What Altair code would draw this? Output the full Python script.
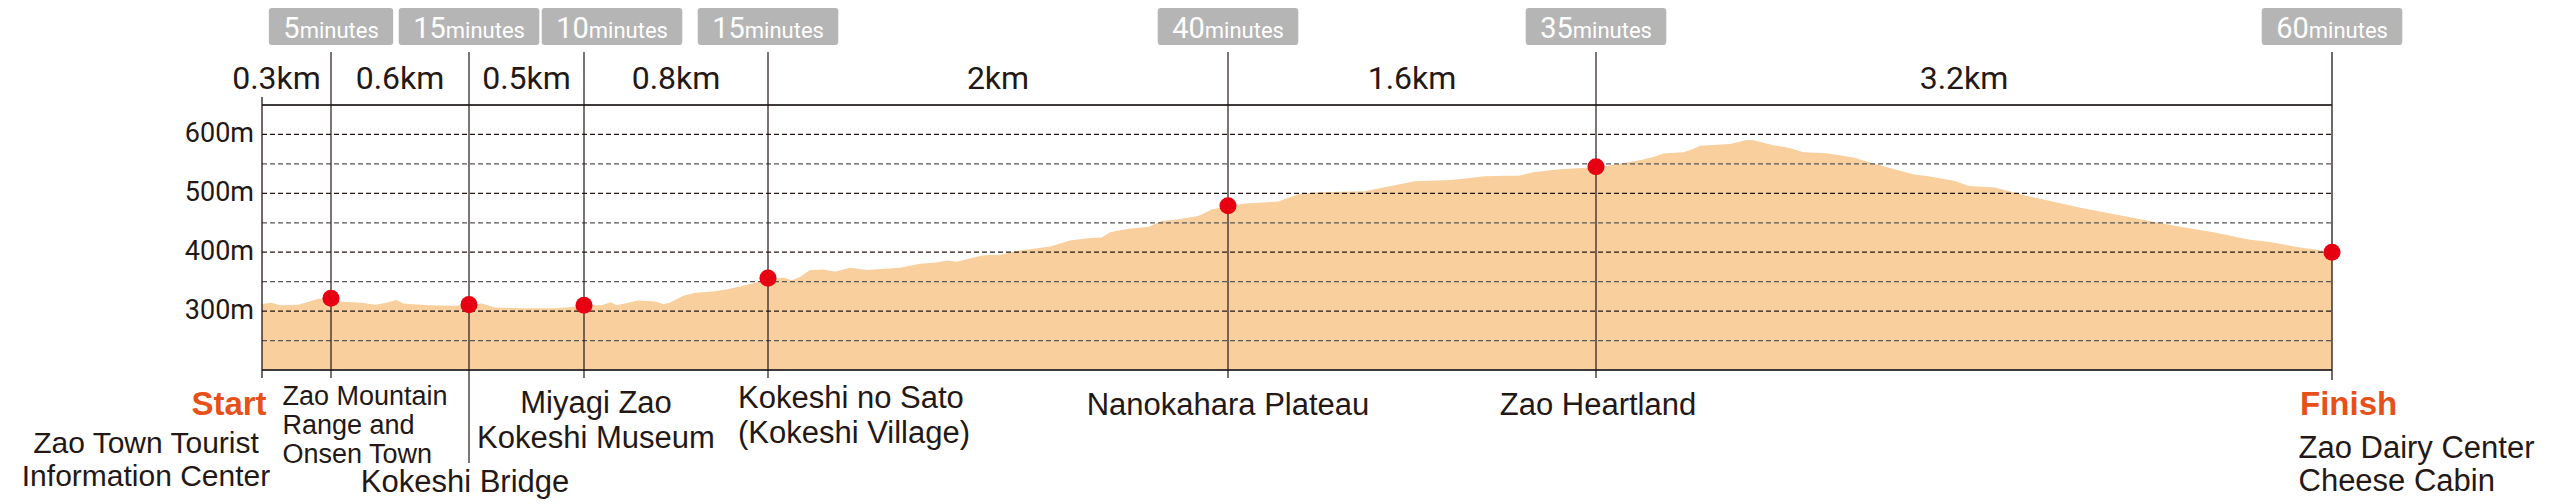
import altair as alt
import pandas as pd

# ---------------- data ----------------
segment_km = [0.3, 0.6, 0.5, 0.8, 2.0, 1.6, 3.2]
segment_labels = ["0.3km", "0.6km", "0.5km", "0.8km", "2km", "1.6km", "3.2km"]
segment_minutes = [5, 15, 10, 15, 40, 35, 60]
minutes_unit = "minutes"

station_names = [
    "Zao Town Tourist\nInformation Center",
    "Zao Mountain\nRange and\nOnsen Town",
    "Kokeshi Bridge",
    "Miyagi Zao\nKokeshi Museum",
    "Kokeshi no Sato\n(Kokeshi Village)",
    "Nanokahara Plateau",
    "Zao Heartland",
    "Zao Dairy Center\nCheese Cabin",
]
station_elev = [None, 322, 311, 310, 356, 479, 545, 400]
endpoint_labels = ["Start", "Finish"]

profile_km = [
    0.000, 0.040, 0.078, 0.158, 0.245, 0.303, 0.346, 0.433, 0.491, 0.542,
    0.585, 0.614, 0.723, 0.839, 0.901, 0.955, 1.013, 1.129, 1.274, 1.346,
    1.401, 1.477, 1.517, 1.542, 1.636, 1.709, 1.745, 1.774, 1.796, 1.832,
    1.883, 1.962, 2.035, 2.122, 2.201, 2.267, 2.303, 2.339, 2.383, 2.441,
    2.491, 2.557, 2.629, 2.774, 2.861, 2.933, 2.977, 3.020, 3.136, 3.209,
    3.281, 3.426, 3.513, 3.600, 3.651, 3.687, 3.767, 3.853, 3.912, 3.984,
    4.071, 4.129, 4.201, 4.274, 4.419, 4.506, 4.593, 4.796, 4.854, 5.013,
    5.172, 5.317, 5.404, 5.463, 5.527, 5.643, 5.801, 5.890, 5.991, 6.049,
    6.093, 6.180, 6.223, 6.252, 6.383, 6.455, 6.484, 6.571, 6.643, 6.701,
    6.803, 6.919, 6.977, 7.093, 7.183, 7.245, 7.361, 7.419, 7.535, 7.622,
    7.680, 7.912, 8.201, 8.346, 8.491, 8.636, 8.723, 8.853, 9.000,
]
profile_elev = [
    312, 314, 310, 311, 321, 321, 316, 314, 311, 314,
    319, 313, 310, 309, 311, 313, 306, 305, 305, 307,
    310, 310, 315, 310, 318, 316.5, 312, 314, 319, 326,
    331, 333.5, 338, 346, 353, 357, 352.6, 358, 369.6, 370.8,
    366.7, 373.5, 369.6, 373.5, 380.3, 382.6, 386, 383.7, 395, 395.6,
    402, 409.8, 420, 424, 425, 434, 439.7, 443, 453, 456,
    461.7, 472.5, 478, 482.7, 486, 498.5, 502, 503.6, 508, 520.5,
    522.8, 529, 530, 530, 535.8, 541, 544.5, 549.4, 556.2, 561.8,
    567.5, 569.7, 575.4, 581, 583.9, 590.6, 590, 581.6, 577, 569.7,
    568, 560.7, 554, 541.4, 532, 529, 521, 512.6, 509.8, 500.8,
    495, 475.3, 453.3, 443, 433.5, 421.7, 417.6, 408.6, 401,
]

grid_values = [250, 300, 350, 400, 450, 500, 550, 600]
y_tick_values = [300, 400, 500, 600]
y_min, y_max = 200, 650

# ---------------- derived tables ----------------
station_km = [0.0]
for d in segment_km:
    station_km.append(round(station_km[-1] + d, 3))
total_km = station_km[-1]

stations = pd.DataFrame({"idx": list(range(len(station_names))), "km": station_km,
                         "name": station_names, "elev": station_elev})
segments = pd.DataFrame({
    "idx": list(range(len(segment_km))),
    "km": [(station_km[i] + station_km[i + 1]) / 2 for i in range(len(segment_km))],
    "end": station_km[1:],
    "label": segment_labels,
    "num": [str(m) for m in segment_minutes],
    "unit": [minutes_unit] * len(segment_minutes),
})
profile = pd.DataFrame({"km": profile_km, "elev": profile_elev})
yticks = pd.DataFrame({"elev": y_tick_values, "label": [f"{v}m" for v in y_tick_values],
                       "km": [0.0] * len(y_tick_values)})
ends = pd.DataFrame({"km": [0.0, total_km], "label": endpoint_labels})
hlines = pd.DataFrame({"elev": grid_values + [y_min, y_max],
                       "x0": [0.0] * (len(grid_values) + 2),
                       "x1": [total_km] * (len(grid_values) + 2)})

# ---------------- styles ----------------
INK = "#231815"
GRAY = "#595757"
FILL = "#F9CF9D"
RED = "#E60012"
ORANGE = "#E8501A"
BADGE = "#B5B5B5"
LABEL_FONT = "Liberation Sans"
NUM_FONT = "Roboto"

xs = alt.Scale(domain=[0, total_km], nice=False, zero=False)
ys = alt.Scale(domain=[y_min, y_max], nice=False, zero=False)


def X(f="km"):
    return alt.X(f"{f}:Q", scale=xs, axis=None)


def Y(f="elev"):
    return alt.Y(f"{f}:Q", scale=ys, axis=None)


layers = []

# area
layers.append(alt.Chart(profile).mark_area(color=FILL, opacity=1).encode(
    x=X(), y=Y(), y2=alt.Y2("base:Q")).transform_calculate(base=str(y_min)))

# gridlines (dashed) and frame lines (solid)
hl = alt.Chart(hlines)
layers.append(hl.transform_filter(f"datum.elev > {y_min} && datum.elev < {y_max} && datum.elev % 100 == 0")
              .mark_rule(strokeDash=[5, 3], strokeWidth=1.3, color=INK).encode(
    y=Y(), x=X("x0"), x2="x1:Q"))
layers.append(hl.transform_filter(f"datum.elev > {y_min} && datum.elev < {y_max} && datum.elev % 100 != 0")
              .mark_rule(strokeDash=[5, 3], strokeWidth=1.3, color=GRAY).encode(
    y=Y(), x=X("x0"), x2="x1:Q"))
layers.append(hl.transform_filter(f"datum.elev == {y_min} || datum.elev == {y_max}")
              .mark_rule(strokeWidth=2, color="#3e3a39").encode(
    y=Y(), x=X("x0"), x2="x1:Q"))

# station vertical lines
st = alt.Chart(stations)
layers.append(st.transform_filter("datum.idx == 0").mark_rule(color=INK, strokeWidth=1.3).encode(
    x=X(), y=alt.value(-8), y2=alt.value(273)))
layers.append(st.transform_filter("datum.idx > 0 && datum.idx != 2 && datum.idx < 7").mark_rule(
    color=INK, strokeWidth=1.2).encode(x=X(), y=alt.value(-53), y2=alt.value(273)))
layers.append(st.transform_filter("datum.idx == 2").mark_rule(color=INK, strokeWidth=1.2).encode(
    x=X(), y=alt.value(-53), y2=alt.value(358)))
layers.append(st.transform_filter("datum.idx == 7").mark_rule(color=INK, strokeWidth=1.3).encode(
    x=X(), y=alt.value(-53), y2=alt.value(275)))

# station dots
layers.append(st.transform_filter("isValid(datum.elev)").mark_circle(
    color=RED, opacity=1, size=290).encode(x=X(), y=Y()))

# y labels
layers.append(alt.Chart(yticks).mark_text(
    align="right", baseline="middle", dx=-8, font=NUM_FONT, fontSize=27, color=INK).encode(
    x=X(), y=Y(), text="label:N"))

# distance labels
seg = alt.Chart(segments)
layers.append(seg.transform_filter("datum.idx == 0").mark_text(
    align="center", baseline="alphabetic", dx=-20, font=NUM_FONT, fontSize=32, color=INK).encode(
    x=X(), y=alt.value(-16.5), text="label:N"))
layers.append(seg.transform_filter("datum.idx > 0").mark_text(
    align="center", baseline="alphabetic", font=NUM_FONT, fontSize=32, color=INK).encode(
    x=X(), y=alt.value(-16.5), text="label:N"))

# time badges
BADGE_H = 37
for i, m in enumerate(segment_minutes):
    n = len(str(m))
    num_w = 16.3 * n
    unit_w = 79
    w = num_w + unit_w + 29
    split = (num_w - unit_w) / 2
    nudge = 28 if i == 2 else 0
    c = 2 * nudge / w          # horizontal shift in symbol units
    hh = BADGE_H / w
    r = 2 * 3 / w
    L, R = -1 + c, 1 + c
    path = (f"M{L + r},{-hh} H{R - r} Q{R},{-hh} {R},{-hh + r} V{hh - r} Q{R},{hh} {R - r},{hh} "
            f"H{L + r} Q{L},{hh} {L},{hh - r} V{-hh + r} Q{L},{-hh} {L + r},{-hh} Z")
    b = seg.transform_filter(f"datum.idx == {i}")
    layers.append(b.mark_point(shape=path, size=w * w, filled=True, fill=BADGE, opacity=1,
                               strokeWidth=0).encode(
        x=X("end"), y=alt.value(-78.5)))
    layers.append(b.mark_text(align="right", baseline="alphabetic", dx=split + nudge,
                              font=NUM_FONT, fontSize=29, color="white").encode(
        x=X("end"), y=alt.value(-67), text="num:N"))
    layers.append(b.mark_text(align="left", baseline="alphabetic", dx=split + nudge,
                              font=NUM_FONT, fontSize=22, color="white").encode(
        x=X("end"), y=alt.value(-67), text="unit:N"))

# station labels
label_styles = {
    0: dict(align="center", dx=-116, y=348, size=30, lh=33),
    1: dict(align="left", dx=-48.5, y=300, size=27, lh=29),
    2: dict(align="center", dx=-4, y=387, size=31, lh=34),
    3: dict(align="center", dx=12, y=308, size=31, lh=35),
    4: dict(align="left", dx=-30, y=303, size=31, lh=35),
    5: dict(align="center", dx=0, y=310, size=31, lh=34),
    6: dict(align="center", dx=2, y=310, size=31, lh=34),
    7: dict(align="left", dx=-33.5, y=353, size=31, lh=33),
}
for i, s in label_styles.items():
    layers.append(st.transform_filter(f"datum.idx == {i}").mark_text(
        align=s["align"], baseline="alphabetic", dx=s["dx"], font=LABEL_FONT,
        fontSize=s["size"], lineHeight=s["lh"], lineBreak="\n", color=INK).encode(
        x=X(), y=alt.value(s["y"]), text="name:N"))

# Start / Finish
e = alt.Chart(ends)
layers.append(e.transform_filter("datum.km == 0").mark_text(
    align="right", baseline="alphabetic", dx=4.6, font=LABEL_FONT, fontSize=33,
    fontWeight="bold", color=ORANGE).encode(x=X(), y=alt.value(310), text="label:N"))
layers.append(e.transform_filter("datum.km > 0").mark_text(
    align="left", baseline="alphabetic", dx=-32, font=LABEL_FONT, fontSize=33,
    fontWeight="bold", color=ORANGE).encode(x=X(), y=alt.value(310), text="label:N"))

chart = alt.layer(*layers).properties(
    width=2070, height=265,
    autosize=alt.AutoSizeParams(type="none"),
    padding={"left": 254, "top": 97, "right": 215, "bottom": 130},
    background="white",
).configure_view(stroke=None)

chart.save("out.html", embed_options={"renderer": "svg", "actions": False})
